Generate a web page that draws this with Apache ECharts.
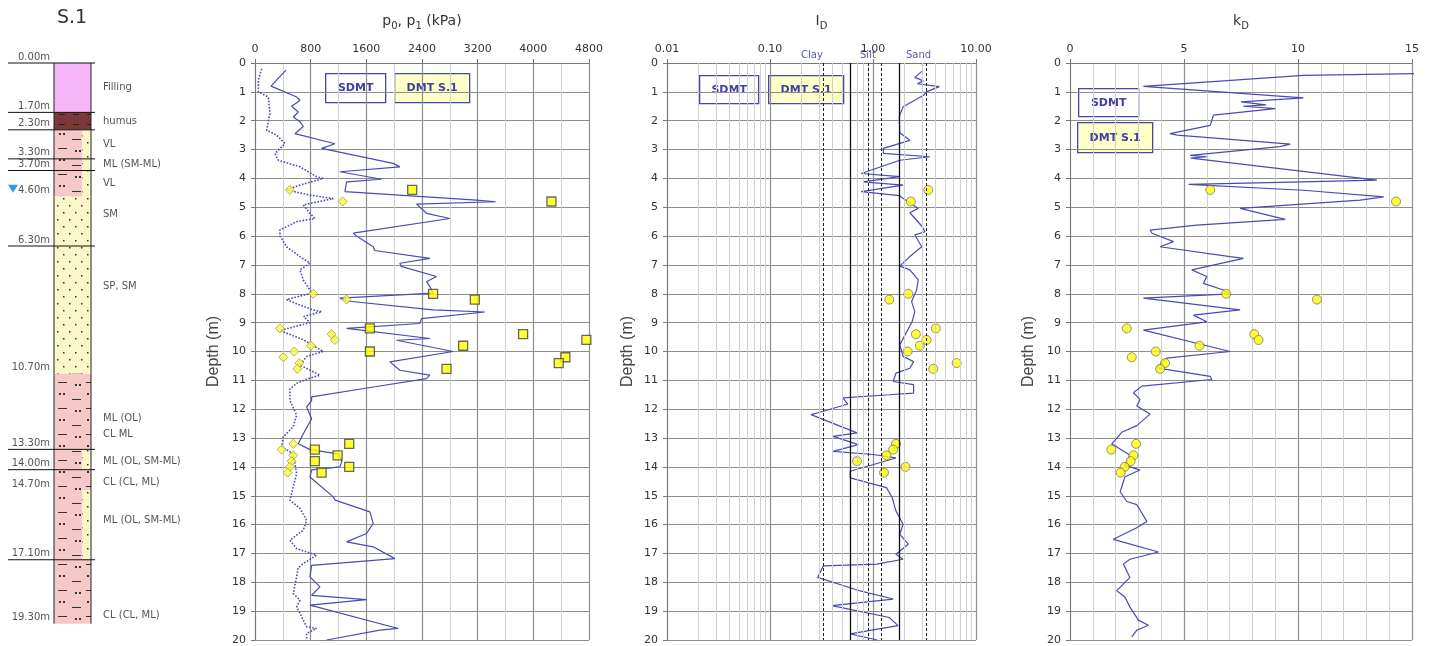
<!DOCTYPE html>
<html>
<head>
<meta charset="utf-8">
<script src="https://cdn.jsdelivr.net/npm/echarts@6.0.0/dist/echarts.min.js"></script>
<style>
  html, body { margin: 0; padding: 0; background: #fff; }
  #chart { width: 1433px; height: 646px; }
</style>
</head>
<body>
<div id="chart"></div>
<script>
// ---- borehole log S.1 ----
var layerTop  = [0, 1.7, 2.3, 3.3, 3.7, 4.6, 6.3, 10.7, 13.3, 14.0, 14.7, 17.1];
var layerBase = [1.7, 2.3, 3.3, 3.7, 4.6, 6.3, 10.7, 13.3, 14.0, 14.7, 17.1, 19.3];
var layerSoil = ['fill', 'humus', 'mix', 'mix', 'mix', 'sand', 'sand', 'clay', 'mix', 'clay', 'mix', 'clay'];
var layerName = ['Filling', 'humus', 'VL', 'ML (SM-ML)', 'VL', 'SM', 'SP, SM', 'ML (OL)\nCL ML',
                 'ML (OL, SM-ML)', 'CL (CL, ML)', 'ML (OL, SM-ML)', 'CL (CL, ML)'];
var layerLabelAt = [0.85, 2.0, 2.8, 3.5, 4.15, 5.2, 7.7, 12.5, 13.72, 14.45, 15.75, 19.0];
var depthLabels = [0, 1.7, 2.3, 3.3, 3.7, 4.6, 6.3, 10.7, 13.3, 14.0, 14.7, 17.1, 19.3];
var boundaryDepths = [0, 1.7, 2.3, 3.3, 3.7, 6.3, 13.3, 14.0, 17.1];
var waterTable = 4.6;

// ---- SDMT profiles: [depth (m), value] ----
var sdmtP1 = [[0.25,445],[0.8,230],[1.18,600],[1.3,646],[1.5,526],[1.7,622],[1.87,550],[2.04,646],[2.2,694],[2.45,574],
  [2.8,1150],[2.96,957],[3.48,1986],[3.6,2082],[3.77,1220],[4.03,1818],[4.12,1316],[4.46,1292],[4.75,3183],[4.81,3460],
  [4.89,2321],[5.21,2465],[5.39,2800],[5.9,1412],[6.0,1460],[6.37,1699],[6.5,1720],[6.77,2513],[6.94,2082],[7.05,2100],
  [7.4,2608],[7.58,2465],[7.75,2513],[7.98,2560],[8.15,1220],[8.25,1320],[8.56,2560],[8.63,3302],[8.86,2393],[9.03,2369],
  [9.2,1316],[9.55,2513],[9.61,2034],[10.0,2848],[10.36,1938],[10.65,2082],[10.82,2513],[10.94,2465],[11.23,1699],[11.57,814],
  [11.7,814],[11.92,742],[12.33,814],[12.85,694],[13.2,622],[13.4,790],[13.55,1196],[13.8,1250],[14.0,1220],[14.1,814],
  [14.35,790],[15.04,1125],[15.15,1150],[15.56,1651],[15.96,1699],[16.31,1603],[16.6,1316],[16.77,1699],[17.18,2010],[17.41,814],
  [17.81,790],[18.16,933],[18.45,814],[18.6,1603],[18.79,790],[19.6,2058],[19.66,1795],[20.0,1029]];
var sdmtP0 = [[0.2,96],[0.6,48],[1.0,48],[1.18,191],[1.75,215],[2.33,167],[2.5,311],[2.79,430],[3.14,287],[3.37,335],
  [3.6,646],[3.94,885],[4.0,981],[4.23,646],[4.4,454],[4.58,790],[4.7,1125],[4.92,694],[5.21,790],[5.39,861],
  [5.5,598],[5.79,359],[6.0,359],[6.37,454],[6.71,646],[6.94,790],[7.17,646],[7.52,694],[7.87,790],[7.98,814],
  [8.2,454],[8.35,600],[8.56,838],[8.62,957],[8.79,700],[9.0,790],[9.27,359],[9.6,700],[10.0,981],[10.17,742],
  [10.47,646],[10.82,933],[10.95,760],[11.1,598],[11.3,502],[11.7,502],[12.2,598],[12.6,550],[12.96,407],[13.3,383],
  [13.55,550],[14.23,598],[15.15,502],[15.44,646],[15.85,742],[16.19,694],[16.54,502],[16.83,598],[17.06,885],[17.35,694],
  [17.5,620],[17.81,598],[18.39,550],[18.62,646],[18.85,600],[19.31,694],[19.54,742],[19.6,885],[19.77,742],[20.0,742]];
var sdmtID = [[0.29,2.97],[0.5,2.55],[0.62,3.08],[0.72,2.7],[0.82,4.4],[1.0,3.3],[1.12,3.1],[1.52,1.96],[1.85,1.8],[2.42,1.82],
  [2.68,2.28],[2.96,1.26],[3.13,1.26],[3.25,3.57],[3.37,1.82],[3.83,0.77],[3.94,1.82],[4.12,0.8],[4.23,1.96],[4.46,0.77],
  [4.6,1.8],[5.04,2.75],[5.19,2.28],[5.65,2.97],[5.85,3.2],[5.96,2.55],[6.37,2.97],[6.71,2.28],[7.04,1.82],[7.17,2.28],
  [7.52,2.75],[7.87,2.65],[8.27,2.37],[8.62,2.55],[8.96,2.4],[9.77,1.82],[10.17,1.96],[10.35,2.48],[10.58,2.28],[10.75,1.67],
  [11.04,1.57],[11.15,2.48],[11.44,2.48],[11.5,1.44],[11.61,0.51],[11.82,0.57],[12.07,0.33],[12.19,0.25],[12.82,0.7],[12.94,0.41],
  [13.23,0.72],[13.46,0.41],[13.57,1.0],[13.69,1.67],[14.15,0.6],[14.38,0.6],[14.72,1.35],[15.07,1.54],[15.53,1.67],[15.99,1.96],
  [16.34,1.82],[16.68,2.2],[17.03,1.67],[17.2,1.96],[17.37,1.09],[17.43,0.33],[17.83,0.29],[18.3,0.75],[18.58,1.57],[18.81,0.4],
  [19.22,1.44],[19.5,1.75],[19.79,0.6],[20.0,1.1]];
var sdmtKD = [[0.33,18],[0.43,10.24],[0.81,3.22],[1.21,10.24],[1.35,7.5],[1.45,8.6],[1.5,7.6],[1.58,9.0],[1.81,6.29],[2.16,6.15],
  [2.45,4.39],[2.5,4.7],[2.81,9.66],[2.9,9.2],[3.2,5.27],[3.25,6.0],[3.3,5.3],[4.06,13.46],[4.12,10.2],[4.21,5.2],
  [4.41,10.24],[4.64,13.76],[4.75,12.73],[5.04,7.46],[5.42,9.44],[5.62,5.56],[5.79,3.51],[5.9,3.6],[6.19,4.54],[6.37,3.95],
  [6.71,7.02],[6.77,7.61],[7.17,5.34],[7.4,6.0],[7.64,5.85],[7.87,6.73],[8.0,7.02],[8.15,3.22],[8.56,7.46],[8.74,5.41],
  [8.97,6.0],[9.26,3.22],[10.0,7.02],[10.23,4.24],[10.57,3.8],[10.86,6.15],[10.97,6.22],[11.2,3.15],[11.43,2.78],[11.66,3.07],
  [11.89,2.93],[12.17,3.51],[12.57,2.93],[12.8,2.27],[13.2,1.83],[13.6,2.63],[13.94,2.41],[14.11,3.07],[14.34,2.41],[14.86,2.2],
  [15.2,2.49],[15.31,2.93],[15.89,3.37],[16.11,2.93],[16.51,1.9],[16.95,3.88],[17.2,2.63],[17.37,2.34],[17.83,2.63],[18.29,2.05],
  [18.51,2.41],[18.86,2.63],[19.31,3.0],[19.49,3.44],[19.66,2.93],[19.89,2.71]];

// ---- DMT S.1 tests ----
var dmtDepth = [4.4, 4.8, 8.0, 8.2, 9.2, 9.4, 9.6, 9.8, 10.0, 10.2, 10.4, 10.6, 13.2, 13.4, 13.6, 13.8, 14.0, 14.2];
var dmtP0 = [502, 1259, 838, 1316, 359, 1100, 1149, 804, 565, 407, 637, 608, 550, 383, 550, 526, 502, 469];
var dmtP1 = [2259, 4260, 2560, 3159, 1651, 3853, 4762, 2991, 1651, 4460, 4365, 2752, 1354, 861, 1187, 861, 1354, 957];
var dmtID = [3.44, 2.33, 2.2, 1.44, 4.08, 2.61, 3.31, 2.85, 2.17, null, 6.49, 3.85, 1.67, 1.57, 1.35, 0.70, 2.07, 1.28];
var dmtKD = [6.15, 14.3, 6.85, 10.83, 2.49, 8.08, 8.27, 5.68, 3.76, 2.71, 4.17, 3.95, 2.9, 1.81, 2.78, 2.66, 2.4, 2.22];

// ---- I_D soil class limits and log grid ----
var idSolid = [0.6, 1.8];
var idDashed = [0.33, 0.9, 1.2, 3.3];
var idMinorGrid = [0.02,0.03,0.04,0.05,0.06,0.07,0.08,0.09, 0.2,0.3,0.4,0.5,0.6,0.7,0.8,0.9, 2,3,4,5,6,7,8,9];

var FONT = 'DejaVu Sans';
var BLUE = '#4a4ab6';
var DARK = '#8e8e8e';
var LIGHT = '#cfcfcf';

function pattern(bg, w, h, draw) {
    var c = document.createElement('canvas');
    c.width = w; c.height = h;
    var g = c.getContext('2d');
    g.fillStyle = bg; g.fillRect(0, 0, w, h);
    g.fillStyle = '#333'; g.strokeStyle = '#333'; g.lineWidth = 1;
    draw(g);
    return { image: c, repeat: 'repeat' };
}
var sandFill = pattern('#fbf7c8', 12, 14, function (g) {
    g.fillRect(3, 2, 1.5, 1.5); g.fillRect(9, 9, 1.5, 1.5);
});
var clayFill = pattern('#f7c8c8', 28, 26, function (g) {
    g.fillRect(3, 3, 2, 2); g.fillRect(7, 3, 2, 2);
    g.beginPath(); g.moveTo(16, 9.5); g.lineTo(25, 9.5);
    g.moveTo(2, 18.5); g.lineTo(11, 18.5); g.stroke();
    g.fillRect(19, 20, 2, 2); g.fillRect(23, 20, 2, 2);
});
var humusFill = pattern('#7b3838', 14, 10, function (g) {
    g.strokeStyle = '#222';
    g.beginPath(); g.moveTo(3, 4.5); g.lineTo(9, 4.5); g.stroke();
});
var fillFill = '#f5b4f5';

var COL_L = 54, COL_S = 82, COL_R = 91;

function renderLayer(params, api) {
    var i = params.dataIndex;
    var a = api.coord([COL_L, api.value(0)]);
    var b = api.coord([COL_R, api.value(1)]);
    var s = api.coord([COL_S, 0])[0];
    var kind = layerSoil[i];
    var left, right;
    if (kind === 'fill') { left = right = fillFill; }
    else if (kind === 'humus') { left = right = humusFill; }
    else if (kind === 'sand') { left = right = sandFill; }
    else if (kind === 'clay') { left = right = clayFill; }
    else { left = clayFill; right = sandFill; }
    return {
        type: 'group',
        children: [
            { type: 'rect', shape: { x: a[0], y: a[1], width: s - a[0], height: b[1] - a[1] }, style: { fill: left } },
            { type: 'rect', shape: { x: s, y: a[1], width: b[0] - s, height: b[1] - a[1] }, style: { fill: right } },
            { type: 'line', shape: { x1: a[0], y1: a[1], x2: a[0], y2: b[1] }, style: { stroke: '#222', lineWidth: 1 } },
            { type: 'line', shape: { x1: b[0], y1: a[1], x2: b[0], y2: b[1] }, style: { stroke: '#222', lineWidth: 1 } }
        ]
    };
}

function renderDepthLabel(params, api) {
    var d = api.value(0);
    var p = api.coord([50, d]);
    var kids = [{
        type: 'text',
        style: { text: d.toFixed(2) + 'm', x: p[0], y: p[1] - 1, align: 'right', verticalAlign: 'bottom',
                 fontSize: 10, fontFamily: FONT, fill: '#555' }
    }];
    if (d === waterTable) {
        var t = api.coord([13, d]);
        kids.push({ type: 'polygon', shape: { points: [[t[0] - 5, t[1] - 12], [t[0] + 5, t[1] - 12], [t[0], t[1] - 4]] },
                    style: { fill: '#2a9fe0' } });
    }
    return { type: 'group', children: kids };
}

function renderBoundary(params, api) {
    var a = api.coord([8, api.value(0)]);
    var b = api.coord([95, api.value(0)]);
    return { type: 'line', shape: { x1: a[0], y1: a[1], x2: b[0], y2: b[1] }, style: { stroke: '#111', lineWidth: 1 } };
}

function renderName(params, api) {
    var p = api.coord([103, api.value(0)]);
    return { type: 'text',
             style: { text: layerName[params.dataIndex], x: p[0], y: p[1], align: 'left', verticalAlign: 'middle',
                      fontSize: 10, lineHeight: 16, fontFamily: FONT, fill: '#555' } };
}

function depthAxis(grid, gap) {
    return {
        gridIndex: grid, type: 'value', inverse: true, min: 0, max: 20, interval: 1,
        name: 'Depth (m)', nameLocation: 'middle', nameGap: gap,
        nameTextStyle: { fontFamily: 'Liberation Sans', fontSize: 16, color: '#444' },
        axisLine: { show: true, lineStyle: { color: '#777' } },
        axisTick: { show: true, length: 4, lineStyle: { color: '#777' } },
        axisLabel: { fontFamily: FONT, fontSize: 11, color: '#333', margin: 9 },
        splitLine: { show: true, lineStyle: { color: DARK, width: 1.2 } }
    };
}

function plain(v) { return String(v); }

var titleRich = { s: { fontFamily: FONT, fontSize: 10, color: '#333', padding: [9, 0, 0, 0] } };
var topAxisBase = {
    type: 'value', position: 'top', nameLocation: 'middle', nameGap: 32,
    nameTextStyle: { fontFamily: FONT, fontSize: 14, color: '#333', rich: titleRich },
    axisLine: { show: true, lineStyle: { color: '#777' } },
    axisTick: { show: true, length: 4, lineStyle: { color: '#777' } },
    axisLabel: { fontFamily: FONT, fontSize: 11, color: '#333', margin: 8, formatter: plain },
    splitLine: { show: true, lineStyle: { color: DARK, width: 1.2 } },
    minorSplitLine: { show: true, lineStyle: { color: LIGHT, width: 1 } }
};

function pairs(list) { return list.map(function (r) { return [r[1], r[0]]; }); }
function dmt(vals) {
    var out = [];
    dmtDepth.forEach(function (d, i) { if (vals[i] != null) out.push([vals[i], d]); });
    return out;
}

function legendBox(x, y, w, h, label, fill) {
    return {
        type: 'group', left: x, top: y,
        children: [
            { type: 'rect', shape: { x: 0, y: 0, width: w, height: h }, style: { fill: fill, stroke: '#4646a8', lineWidth: 1.3 } },
            { type: 'text', style: { text: label, x: w / 2, y: h / 2, align: 'center', verticalAlign: 'middle',
                                     fontFamily: FONT, fontSize: 11, fontWeight: 'bold', fill: '#3f3fa6' } }
        ]
    };
}

var chart = echarts.init(document.getElementById('chart'));
chart.setOption({
    backgroundColor: '#fff',
    animation: false,
    title: { text: 'S.1', left: 52, top: 4, textStyle: { fontFamily: FONT, fontSize: 19, fontWeight: 'normal', color: '#333' } },
    grid: [
        { left: 0, top: 63, width: 200, height: 581 },
        { left: 255, top: 63, width: 334, height: 577 },
        { left: 667, top: 63, width: 309, height: 577 },
        { left: 1070, top: 63, width: 342, height: 577 }
    ],
    xAxis: [
        { gridIndex: 0, type: 'value', min: 0, max: 200, show: false },
        Object.assign({}, topAxisBase, { gridIndex: 1, min: 0, max: 4800, interval: 800, minorTick: { show: false, splitNumber: 2 },
            name: 'p{s|0}, p{s|1} (kPa)' }),
        Object.assign({}, topAxisBase, { gridIndex: 2, type: 'log', logBase: 10, min: 0.01, max: 10,
            name: 'I{s|D}', minorSplitLine: { show: false },
            axisLabel: { fontFamily: FONT, fontSize: 11, color: '#333', margin: 8, formatter: function (v) { return v.toFixed(2); } } }),
        Object.assign({}, topAxisBase, { gridIndex: 3, min: 0, max: 15, interval: 5, minorTick: { show: false, splitNumber: 5 },
            name: 'k{s|D}' })
    ],
    yAxis: [
        { gridIndex: 0, type: 'value', inverse: true, min: 0, max: 20, show: false },
        depthAxis(1, 33),
        depthAxis(2, 31),
        depthAxis(3, 33)
    ],
    series: [
        { type: 'custom', xAxisIndex: 0, yAxisIndex: 0, silent: true, renderItem: renderLayer,
          data: layerTop.map(function (t, i) { return [t, layerBase[i]]; }), encode: { x: -1, y: 0 } },
        { type: 'custom', xAxisIndex: 0, yAxisIndex: 0, silent: true, renderItem: renderBoundary, z: 3,
          data: boundaryDepths.map(function (d) { return [d]; }), encode: { x: -1, y: 0 } },
        { type: 'custom', xAxisIndex: 0, yAxisIndex: 0, silent: true, renderItem: renderDepthLabel, z: 3,
          data: depthLabels.map(function (d) { return [d]; }), encode: { x: -1, y: 0 } },
        { type: 'custom', xAxisIndex: 0, yAxisIndex: 0, silent: true, renderItem: renderName, z: 3,
          data: layerLabelAt.map(function (d) { return [d]; }), encode: { x: -1, y: 0 } },

        { name: 'SDMT p1', type: 'line', xAxisIndex: 1, yAxisIndex: 1, data: pairs(sdmtP1), symbol: 'none', clip: true,
          lineStyle: { color: BLUE, width: 1.2 } },
        { name: 'SDMT p0', type: 'line', xAxisIndex: 1, yAxisIndex: 1, data: pairs(sdmtP0), symbol: 'none', clip: true,
          lineStyle: { color: BLUE, width: 1.6, type: 'dotted' } },
        { name: 'DMT p0', type: 'scatter', xAxisIndex: 1, yAxisIndex: 1, data: dmt(dmtP0), symbol: 'diamond', symbolSize: 9,
          itemStyle: { color: '#ffff33', borderColor: '#9a9a60', borderWidth: 1 }, z: 4 },
        { name: 'DMT p1', type: 'scatter', xAxisIndex: 1, yAxisIndex: 1, data: dmt(dmtP1), symbol: 'rect', symbolSize: 9,
          itemStyle: { color: '#ffff00', borderColor: '#444', borderWidth: 1.3 }, z: 4 },

        { name: 'log grid', type: 'line', xAxisIndex: 2, yAxisIndex: 2, data: [], z: 1,
          markLine: { silent: true, symbol: 'none', label: { show: false },
                      lineStyle: { color: LIGHT, width: 1, type: 'solid' },
                      data: idMinorGrid.map(function (v) { return { xAxis: v }; }) } },
        { name: 'SDMT ID', type: 'line', xAxisIndex: 2, yAxisIndex: 2, data: pairs(sdmtID), symbol: 'none', clip: true,
          lineStyle: { color: BLUE, width: 1.2 },
          markLine: { silent: true, symbol: 'none', label: { show: false },
                      data: idSolid.map(function (v) { return { xAxis: v, lineStyle: { color: '#111', width: 1.3, type: 'solid' } }; })
                        .concat(idDashed.map(function (v) { return { xAxis: v, lineStyle: { color: '#222', width: 1, type: [3, 2] } }; })) } },
        { name: 'DMT ID', type: 'scatter', xAxisIndex: 2, yAxisIndex: 2, data: dmt(dmtID), symbol: 'circle', symbolSize: 9,
          itemStyle: { color: '#ffff00', borderColor: '#777', borderWidth: 1 }, z: 4 },

        { name: 'SDMT kD', type: 'line', xAxisIndex: 3, yAxisIndex: 3, data: pairs(sdmtKD), symbol: 'none', clip: true,
          lineStyle: { color: BLUE, width: 1.2 } },
        { name: 'DMT kD', type: 'scatter', xAxisIndex: 3, yAxisIndex: 3, data: dmt(dmtKD), symbol: 'circle', symbolSize: 9,
          itemStyle: { color: '#ffff00', borderColor: '#777', borderWidth: 1 }, z: 4 }
    ],
    graphic: [
        legendBox(325, 73, 60, 29, 'SDMT', '#fff'),
        legendBox(394, 73, 75, 29, 'DMT S.1', '#ffffc8'),
        legendBox(699, 75, 59, 28, 'SDMT', '#fff'),
        legendBox(768, 75, 75, 28, 'DMT S.1', '#ffffc8'),
        legendBox(1078, 88, 60, 28, 'SDMT', '#fff'),
        legendBox(1077, 122, 75, 30, 'DMT S.1', '#ffffc8'),
        { type: 'text', left: 801, top: 50, style: { text: 'Clay', fontFamily: FONT, fontSize: 10, fill: '#5a5aa8' } },
        { type: 'text', left: 860, top: 50, style: { text: 'Silt', fontFamily: FONT, fontSize: 10, fill: '#5a5aa8' } },
        { type: 'text', left: 906, top: 50, style: { text: 'Sand', fontFamily: FONT, fontSize: 10, fill: '#5a5aa8' } }
    ]
});
</script>
</body>
</html>
